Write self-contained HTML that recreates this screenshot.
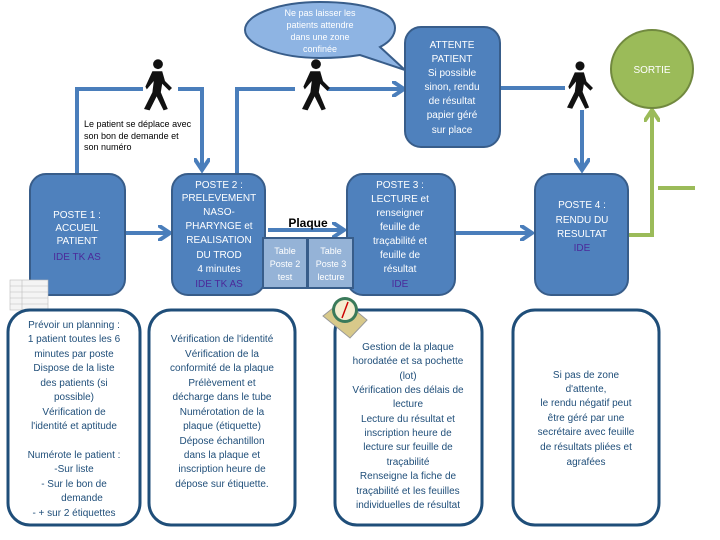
<!DOCTYPE html>
<html><head><meta charset="utf-8"><style>
html,body{margin:0;padding:0;background:#fff;width:720px;height:540px;overflow:hidden}
svg{display:block}
text{font-family:"Liberation Sans",sans-serif}
</style></head><body>
<svg width="720" height="540" viewBox="0 0 720 540" xmlns="http://www.w3.org/2000/svg">
<defs>
<marker id="ab" markerWidth="4" markerHeight="4" refX="2.5" refY="2" orient="auto" markerUnits="strokeWidth"><path d="M0,0 L3,2 L0,4" fill="none" stroke="#4a7ebb" stroke-width="1"/></marker>
<marker id="ag" markerWidth="4" markerHeight="4" refX="2.5" refY="2" orient="auto" markerUnits="strokeWidth"><path d="M0,0 L3,2 L0,4" fill="none" stroke="#9bbb59" stroke-width="1"/></marker>
<g id="walker" fill="#111"><circle cx="0" cy="-17" r="3.5"/><path d="M-4,-12 L3,-12 L5,-5 L10,0 L8,2 L3,-3 L2,3 L7,15 L4,16 L-1,6 L-6,16 L-10,15 L-4,3 L-3,-5 L-8,1 L-9,-1 Z"/></g>
</defs>
<g stroke="#4a7ebb" stroke-width="4" fill="none">
<polyline points="77,173 77,89 143,89"/>
<polyline points="178,89 202,89 202,168" marker-end="url(#ab)"/>
<polyline points="237,173 237,89 295,89"/>
<polyline points="327,89 402,89" marker-end="url(#ab)"/>
<polyline points="498,88 565,88"/>
<polyline points="582,110 582,168" marker-end="url(#ab)"/>
<polyline points="125,233 168,233" marker-end="url(#ab)"/>
<polyline points="268,230 342,230" marker-end="url(#ab)"/>
<polyline points="440,233 530,233" marker-end="url(#ab)"/>
</g>
<g stroke="#9bbb59" stroke-width="4" fill="none">
<polyline points="628,235 652,235 652,112" marker-end="url(#ag)"/>
<line x1="658" y1="188" x2="695" y2="188"/>
</g>
<path d="M320,2 C365,2 395,12 395,28 C395,35 390,42 380,47 L405,70 L360,55 C348,57 335,58 320,58 C280,58 245,45 245,30 C245,14 280,2 320,2 Z" fill="#8eb4e3" stroke="#385d8a" stroke-width="2"/>
<g font-size="9" fill="#fff" text-anchor="middle"><text x="320" y="16">Ne pas laisser les</text><text x="320" y="28">patients attendre</text><text x="320" y="40">dans une zone</text><text x="320" y="52">confinée</text></g>
<g fill="#4f81bd" stroke="#385d8a" stroke-width="2">
<rect x="30" y="174" width="95" height="121" rx="16"/>
<rect x="172" y="174" width="93" height="121" rx="16"/>
<rect x="347" y="174" width="108" height="121" rx="16"/>
<rect x="535" y="174" width="93" height="121" rx="16"/>
<rect x="405" y="27" width="95" height="120" rx="16"/>
</g>
<ellipse cx="652" cy="69" rx="41" ry="39" fill="#9bbb59" stroke="#71893f" stroke-width="2"/>
<text x="652" y="73" font-size="10" fill="#fff" text-anchor="middle">SORTIE</text>
<g fill="#95b3d7" stroke="#385d8a" stroke-width="2"><rect x="263" y="238" width="44" height="50"/><rect x="308" y="238" width="45" height="50"/></g>
<g font-size="9" fill="#fff" text-anchor="middle">
<text x="285" y="254">Table</text><text x="285" y="267">Poste 2</text><text x="285" y="280">test</text>
<text x="331" y="254">Table</text><text x="331" y="267">Poste 3</text><text x="331" y="280">lecture</text>
</g>
<text x="308" y="227" font-size="12" font-weight="bold" text-anchor="middle" fill="#000">Plaque</text>
<g font-size="10" fill="#fff" text-anchor="middle">
<text x="77" y="218">POSTE 1 :</text><text x="77" y="231">ACCUEIL</text><text x="77" y="244">PATIENT</text><text x="77" y="260" fill="#4b2a9a">IDE TK AS</text>
<text x="219" y="188">POSTE 2 :</text><text x="219" y="201">PRELEVEMENT</text><text x="219" y="215">NASO-</text><text x="219" y="229">PHARYNGE et</text><text x="219" y="243">REALISATION</text><text x="219" y="258">DU TROD</text><text x="219" y="272">4 minutes</text><text x="219" y="287" fill="#4b2a9a">IDE TK AS</text>
<text x="400" y="188">POSTE 3 :</text><text x="400" y="202">LECTURE et</text><text x="400" y="216">renseigner</text><text x="400" y="230">feuille de</text><text x="400" y="244">traçabilité et</text><text x="400" y="258">feuille de</text><text x="400" y="272">résultat</text><text x="400" y="287" fill="#4b2a9a">IDE</text>
<text x="582" y="208">POSTE 4 :</text><text x="582" y="223">RENDU DU</text><text x="582" y="237">RESULTAT</text><text x="582" y="251" fill="#4b2a9a">IDE</text>
<text x="452" y="48">ATTENTE</text><text x="452" y="62">PATIENT</text><text x="452" y="76">Si possible</text><text x="452" y="90">sinon, rendu</text><text x="452" y="104">de résultat</text><text x="452" y="118">papier géré</text><text x="452" y="133">sur place</text>
</g>
<g font-size="9" fill="#000"><text x="84" y="127">Le patient se déplace avec</text><text x="84" y="139">son bon de demande et</text><text x="84" y="150">son numéro</text></g>
<use href="#walker" transform="translate(158,88) scale(1.4)"/>
<use href="#walker" transform="translate(316,88) scale(1.4)"/>
<use href="#walker" transform="translate(580,88) scale(1.3)"/>
<g stroke="#bbb" stroke-width="0.6"><rect x="10" y="280" width="38" height="30" fill="#f4f4f4"/><line x1="10" y1="286" x2="48" y2="286"/><line x1="10" y1="292" x2="48" y2="292"/><line x1="10" y1="298" x2="48" y2="298"/><line x1="10" y1="304" x2="48" y2="304"/><line x1="22" y1="280" x2="22" y2="310"/></g>
<g fill="#fff" stroke="#1f4e79" stroke-width="3">
<rect x="8" y="310" width="132" height="215" rx="22"/>
<rect x="149" y="310" width="146" height="215" rx="22"/>
<rect x="335" y="310" width="147" height="215" rx="22"/>
<rect x="513" y="310" width="146" height="215" rx="22"/>
</g>
<g><path d="M323,316 L343,300 L367,320 L350,338 Z" fill="#d8c98a" stroke="#999" stroke-width="1"/><circle cx="345" cy="310" r="13" fill="#3a7a5a"/><circle cx="345" cy="310" r="10" fill="#f5edd0"/><line x1="345" y1="310" x2="348" y2="302" stroke="#c00" stroke-width="1.5"/><line x1="345" y1="310" x2="342" y2="318" stroke="#c00" stroke-width="1.5"/></g>
<g font-size="10" fill="#1f4e79" text-anchor="middle">
<text x="74" y="328">Prévoir un planning :</text><text x="74" y="342">1 patient toutes les 6</text><text x="74" y="357">minutes par poste</text><text x="74" y="371">Dispose de la liste</text><text x="74" y="386">des patients (si</text><text x="74" y="400">possible)</text><text x="74" y="415">Vérification de</text><text x="74" y="429">l'identité et aptitude</text>
<text x="74" y="458">Numérote le patient :</text><text x="74" y="472">-Sur liste</text><text x="74" y="487">-    Sur le bon de</text><text x="82" y="501">demande</text><text x="74" y="516">-    + sur 2 étiquettes</text>
<text x="222" y="342">Vérification de l'identité</text><text x="222" y="357">Vérification de la</text><text x="222" y="371">conformité de la plaque</text><text x="222" y="386">Prélèvement et</text><text x="222" y="400">décharge  dans le tube</text><text x="222" y="415">Numérotation de la</text><text x="222" y="429">plaque (étiquette)</text><text x="222" y="444">Dépose échantillon</text><text x="222" y="458">dans la  plaque et</text><text x="222" y="472">inscription heure de</text><text x="222" y="487">dépose sur étiquette.</text>
<text x="408" y="350">Gestion de la plaque</text><text x="408" y="364">horodatée et sa pochette</text><text x="408" y="379">(lot)</text><text x="408" y="393">Vérification des délais de</text><text x="408" y="407">lecture</text><text x="408" y="422">Lecture du résultat et</text><text x="408" y="436">inscription heure de</text><text x="408" y="450">lecture sur feuille de</text><text x="408" y="465">traçabilité</text><text x="408" y="479">Renseigne la fiche de</text><text x="408" y="494">traçabilité et les feuilles</text><text x="408" y="508">individuelles de résultat</text>
<text x="586" y="378">Si pas de zone</text><text x="586" y="392">d'attente,</text><text x="586" y="406">le rendu négatif  peut</text><text x="586" y="421">être géré par une</text><text x="586" y="435">secrétaire avec feuille</text><text x="586" y="450">de résultats pliées et</text><text x="586" y="465">agrafées</text>
</g>
</svg>
</body></html>
